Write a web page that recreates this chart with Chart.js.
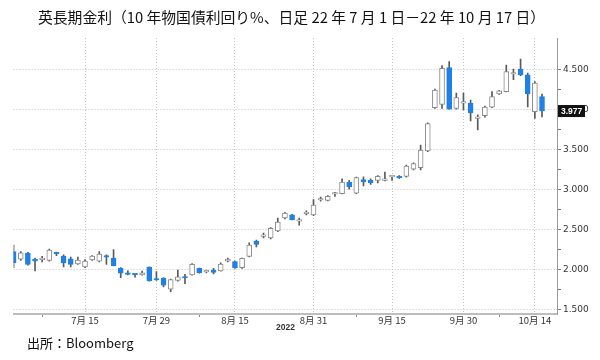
<!DOCTYPE html>
<html lang="ja">
<head>
<meta charset="UTF-8">
<title>英長期金利</title>
<script src="https://cdn.jsdelivr.net/npm/chart.js@4.4.0/dist/chart.umd.min.js"></script>
<style>
    body {
        margin: 0;
        padding: 0;
        background: #fff;
        font-family: "Noto Sans CJK JP", "Noto Sans", sans-serif;
    }
    .wrap {
        position: relative;
        width: 600px;
        height: 360px;
    }
    .title {
        position: absolute;
        left: 38px;
        top: 8px;
        font-size: 14.8px;
        line-height: 18px;
        color: #111;
        white-space: nowrap;
    }
    .source {
        position: absolute;
        left: 27px;
        top: 334px;
        font-size: 13px;
        line-height: 18px;
        color: #111;
    }
    .year {
        position: absolute;
        left: 276px;
        top: 322px;
        font-size: 8.5px;
        color: #333;
        font-family: "Liberation Sans", sans-serif;
        font-weight: bold;
    }
    canvas {
        position: absolute;
        left: 0;
        top: 0;
    }
</style>
</head>
<body>
<div class="wrap">
    <canvas id="chart" width="600" height="360"></canvas>
    <div class="title">英長期金利（10 年物国債利回り%、日足 22 年 7 月 1 日－22 年 10 月 17 日）</div>
    <div class="year">2022</div>
    <div class="source">出所：Bloomberg</div>
</div>

<script>
// trading days, 2022
const dates = [
    '07-01','07-04','07-05','07-06','07-07','07-08','07-11','07-12','07-13','07-14','07-15',
    '07-18','07-19','07-20','07-21','07-22','07-25','07-26','07-27','07-28','07-29',
    '08-01','08-02','08-03','08-04','08-05','08-08','08-09','08-10','08-11','08-12',
    '08-15','08-16','08-17','08-18','08-19','08-22','08-23','08-24','08-25','08-26','08-30','08-31',
    '09-01','09-02','09-05','09-06','09-07','09-08','09-09','09-12','09-13','09-14','09-15','09-16',
    '09-20','09-21','09-22','09-23','09-26','09-27','09-28','09-29','09-30',
    '10-03','10-04','10-05','10-06','10-07','10-10','10-11','10-12','10-13','10-14','10-17'
];

const opens = [
    2.22, 2.125, 2.20, 2.125, 2.12, 2.11, 2.21, 2.165, 2.13, 2.065, 2.03,
    2.115, 2.10, 2.17, 2.14, 2.01, 1.955, 1.935, 1.93, 2.025, 1.87,
    1.885, 1.75, 1.86, 1.905, 1.93, 2.01, 1.965, 1.99, 1.98, 2.10,
    2.095, 2.02, 2.16, 2.35, 2.41, 2.39, 2.48, 2.64, 2.68, 2.60, 2.695, 2.68,
    2.865, 2.86, 2.94, 2.945, 3.085, 2.95, 3.12, 3.11, 3.11, 3.11, 3.155, 3.165,
    3.16, 3.25, 3.27, 3.48, 4.02, 4.06, 4.52, 4.01, 4.075,
    4.075, 3.885, 3.92, 4.025, 4.19, 4.22, 4.44, 4.50, 4.43, 3.97, 4.157
];
const highs = [
    2.30, 2.22, 2.21, 2.14, 2.16, 2.25, 2.215, 2.18, 2.15, 2.15, 2.12,
    2.17, 2.22, 2.18, 2.245, 2.02, 1.98, 1.94, 1.975, 2.03, 1.97,
    1.895, 1.875, 1.99, 1.935, 2.07, 2.015, 1.99, 2.01, 2.08, 2.14,
    2.10, 2.14, 2.33, 2.365, 2.45, 2.52, 2.64, 2.71, 2.685, 2.64, 2.73, 2.87,
    2.90, 2.92, 2.96, 3.13, 3.11, 3.15, 3.155, 3.13, 3.17, 3.215, 3.165, 3.17,
    3.30, 3.33, 3.55, 3.83, 4.25, 4.545, 4.595, 4.20, 4.20,
    4.115, 3.93, 4.04, 4.22, 4.235, 4.55, 4.50, 4.625, 4.45, 4.345, 4.19
];
const lows = [
    2.02, 2.11, 2.05, 1.98, 2.09, 2.10, 2.17, 2.03, 2.03, 2.06, 2.02,
    2.11, 2.09, 2.06, 2.04, 1.895, 1.93, 1.90, 1.925, 1.85, 1.86,
    1.78, 1.72, 1.85, 1.82, 1.925, 1.95, 1.955, 1.94, 1.975, 2.09,
    2.01, 2.01, 2.155, 2.28, 2.39, 2.38, 2.47, 2.63, 2.615, 2.55, 2.68, 2.67,
    2.85, 2.855, 2.91, 2.94, 3.00, 2.945, 3.04, 3.06, 3.08, 3.105, 3.11, 3.135,
    3.15, 3.24, 3.24, 3.47, 4.01, 4.01, 4.00, 4.00, 3.99,
    3.855, 3.74, 3.90, 4.02, 4.185, 4.215, 4.37, 4.42, 4.03, 3.886, 3.905
];
const closes = [
    2.08, 2.205, 2.06, 2.10, 2.125, 2.24, 2.19, 2.08, 2.06, 2.115, 2.10,
    2.165, 2.19, 2.15, 2.045, 1.95, 1.935, 1.93, 1.955, 1.855, 1.865,
    1.80, 1.87, 1.905, 1.89, 2.06, 1.955, 1.985, 1.96, 2.065, 2.125,
    2.02, 2.135, 2.30, 2.31, 2.42, 2.51, 2.59, 2.70, 2.62, 2.605, 2.70, 2.80,
    2.87, 2.91, 2.945, 3.09, 3.03, 3.145, 3.09, 3.08, 3.16, 3.115, 3.16, 3.14,
    3.29, 3.32, 3.49, 3.82, 4.24, 4.51, 4.00, 4.145, 4.08,
    3.955, 3.89, 4.025, 4.157, 4.23, 4.47, 4.445, 4.43, 4.19, 4.325, 3.977
];

// x axis
const majorDates = ['07-15', '07-29', '08-15', '08-31', '09-15', '09-30', '10-14'];
const majorLabels = ['7月 15', '7月 29', '8月 15', '8月 31', '9月 15', '9月 30', '10月 14'];
const minorDates = ['07-07', '08-08', '09-08', '10-07'];

// y axis
const yTicks = [1.5, 1.75, 2.0, 2.25, 2.5, 2.75, 3.0, 3.25, 3.5, 3.75, 4.0, 4.25, 4.5];

const UP_BORDER = '#8a8a8a';
const DOWN = '#1f80e6';

const majorIdx = majorDates.map(d => dates.indexOf(d));
const minorIdx = minorDates.map(d => dates.indexOf(d));

const wicks = dates.map((d, i) => ({ x: i, y: [lows[i], highs[i]] }));
const bodies = dates.map((d, i) => ({ x: i, y: [opens[i], closes[i]] }));
const isUp = closes.map((c, i) => c >= opens[i]);

const isHalf = v => Math.abs(v * 2 - Math.round(v * 2)) < 1e-6;

// last value tag on the right axis
const lastTag = {
    id: 'lastTag',
    afterDraw(chart) {
        const { ctx, chartArea, scales } = chart;
        const v = closes[closes.length - 1];
        const y = scales.y.getPixelForValue(v);
        ctx.save();
        ctx.fillStyle = '#111';
        ctx.fillRect(chartArea.right + 1, y - 6, 27, 12);
        ctx.fillStyle = '#fff';
        ctx.font = 'bold 8.5px "Liberation Sans", sans-serif';
        ctx.textBaseline = 'middle';
        ctx.fillText(v.toFixed(3), chartArea.right + 4, y + 0.5);
        ctx.restore();
    }
};

new Chart(document.getElementById('chart'), {
    type: 'bar',
    data: {
        datasets: [
            {
                data: bodies,
                barThickness: 5,
                minBarLength: 1.5,
                backgroundColor: isUp.map(u => u ? '#ffffff' : DOWN),
                borderColor: isUp.map(u => u ? UP_BORDER : DOWN),
                borderWidth: 1,
                borderSkipped: false,
                grouped: false,
                order: 1
            },
            {
                data: wicks,
                barThickness: 1,
                backgroundColor: '#5a5a5a',
                borderWidth: 0,
                grouped: false,
                order: 2
            }
        ]
    },
    options: {
        responsive: false,
        animation: false,
        layout: { padding: { top: 38, left: 13.6, right: 0, bottom: 0 } },
        plugins: {
            legend: { display: false },
            tooltip: { enabled: false }
        },
        scales: {
            x: {
                type: 'linear',
                offset: false,
                min: 0,
                max: 76.1,
                afterBuildTicks(scale) {
                    scale.ticks = majorIdx.concat(minorIdx).map(v => ({ value: v }));
                },
                afterFit(scale) { scale.height = 46; },
                ticks: {
                    autoSkip: false,
                    maxRotation: 0,
                    padding: -2,
                    color: '#333',
                    font: { size: 9.5, family: '"Noto Sans CJK JP", sans-serif' },
                    callback(v) {
                        const k = majorIdx.indexOf(v);
                        return k >= 0 ? majorLabels[k] : '';
                    }
                },
                grid: {
                    offset: false,
                    color: ctx => majorIdx.includes(ctx.tick && ctx.tick.value) ? '#c4c4c4' : 'rgba(0,0,0,0)',
                    tickColor: ctx => minorIdx.includes(ctx.tick && ctx.tick.value) ? '#888' : 'rgba(0,0,0,0)',
                    tickLength: 3,
                    tickBorderDash: []
                },
                border: { display: true, color: '#bdbdbd', width: 2, dash: [1, 2] }
            },
            y: {
                position: 'right',
                min: 1.44,
                max: 4.89,
                afterBuildTicks(scale) {
                    scale.ticks = yTicks.map(v => ({ value: v }));
                },
                afterFit(scale) { scale.width = 43; },
                ticks: {
                    padding: 2,
                    color: '#333',
                    font: { size: 9, family: '"DejaVu Sans", sans-serif' },
                    callback(v) {
                        return isHalf(v) ? v.toFixed(3) : '';
                    }
                },
                grid: {
                    color: ctx => (ctx.tick && isHalf(ctx.tick.value)) ? '#c4c4c4' : 'rgba(0,0,0,0)',
                    tickColor: '#777',
                    tickLength: 4,
                    tickBorderDash: []
                },
                border: { display: true, color: '#9a9a9a', width: 1, dash: [1, 2] }
            }
        }
    },
    plugins: [lastTag]
});
</script>
</body>
</html>
